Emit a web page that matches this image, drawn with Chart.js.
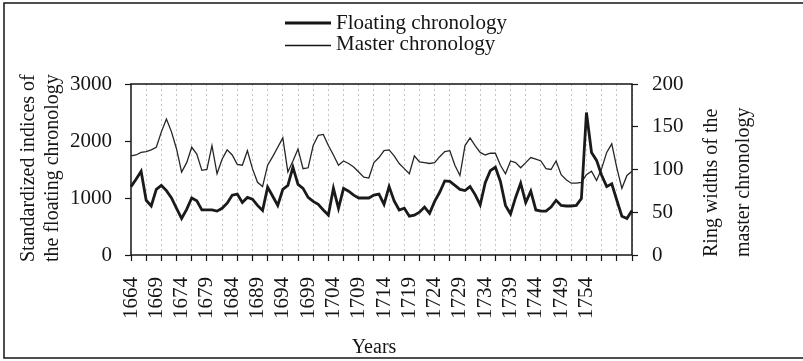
<!DOCTYPE html>
<html>
<head>
<meta charset="utf-8">
<script src="https://cdn.jsdelivr.net/npm/chart.js@4.4.1/dist/chart.umd.min.js"></script>
<style>
  html,body{margin:0;padding:0;background:#fff;}
  #wrap{position:relative;width:803px;height:361px;}
</style>
</head>
<body>
<div id="wrap"><canvas id="c" width="803" height="361"></canvas></div>
<script>
// categories: one per year
const years = Array.from({length:100}, (_, i) => 1664 + i);

// standardized indices of the floating chronology (left axis)
const floating = [
  1200,1330,1470,960,860,1150,1220,1130,1000,820,
  640,800,1000,950,790,790,790,770,820,910,
  1050,1070,920,1010,980,870,780,1190,1030,870,
  1150,1220,1540,1240,1170,1010,940,890,790,700,
  1170,820,1170,1120,1050,1000,1000,1000,1050,1070,
  890,1200,950,790,820,680,700,750,840,730,
  940,1100,1300,1290,1220,1150,1130,1200,1060,880,
  1270,1480,1540,1290,870,720,1010,1260,920,1120,
  790,770,770,840,960,870,860,860,870,990,
  2500,1800,1660,1400,1200,1250,960,680,640,780
];

// ring widths of the master chronology (right axis)
const master = [
  116,117,120,121,123,126,144,159,144,124,
  97,108,126,118,99,100,128,95,112,123,
  117,106,105,122,101,85,80,105,115,126,
  137,97,110,124,101,102,128,140,141,128,
  117,105,110,107,103,97,91,90,108,114,
  122,123,116,107,101,95,116,109,108,107,
  108,115,121,122,105,93,128,137,128,120,
  117,119,119,105,95,110,108,102,108,114,
  112,110,101,100,110,94,88,84,84,85,
  94,98,87,101,120,130,102,78,93,98
];

const leftTicks = [0, 1000, 2000, 3000];
const rightTicks = [0, 50, 100, 150, 200];
const leftTitle = ["Standardized indices of", "the floating chronology"];
const rightTitle = ["Ring widths of the", "master chronology"];
const xTitle = "Years";

const SERIF = "'Liberation Serif', 'Times New Roman', serif";
const INK = "#151515";
const tickFont = {family: SERIF, size: 21};

// box round the plot area
const frame = {
  id: "frame",
  beforeDatasetsDraw(chart){
    const {ctx, chartArea:a} = chart;
    ctx.save();
    ctx.strokeStyle = INK; ctx.lineWidth = 1.5;
    ctx.strokeRect(a.left, a.top, a.right - a.left, a.bottom - a.top);
    ctx.restore();
  }
};

// legend, axis titles and the outer border
const texts = {
  id: "texts",
  afterDraw(chart){
    const ctx = chart.ctx;
    ctx.save();
    ctx.fillStyle = INK; ctx.strokeStyle = INK;
    // outer border
    ctx.lineWidth = 1.5;
    ctx.beginPath();
    ctx.moveTo(803, 3); ctx.lineTo(4, 3); ctx.lineTo(4, 358); ctx.lineTo(803, 358);
    ctx.stroke();
    // legend, stacked
    ctx.font = "21px " + SERIF;
    ctx.textAlign = "left"; ctx.textBaseline = "alphabetic";
    const rows = [{y: 23, tx: 28.5}, {y: 45.5, tx: 50}];
    chart.data.datasets.forEach((ds, i) => {
      const r = rows[i];
      ctx.lineWidth = ds.borderWidth;
      ctx.beginPath(); ctx.moveTo(285, r.y); ctx.lineTo(331, r.y); ctx.stroke();
      ctx.fillText(ds.label, 336, r.tx);
    });
    // y titles, read bottom to top
    ctx.font = "20px " + SERIF;
    const rot = (lines, xs, y0) => lines.forEach((t, i) => {
      ctx.save(); ctx.translate(xs[i], y0); ctx.rotate(-Math.PI / 2);
      ctx.fillText(t, 0, 0); ctx.restore();
    });
    rot(leftTitle, [34, 58], 262);
    rot(rightTitle, [717, 749], 257);
    // x title
    ctx.textAlign = "center";
    ctx.fillText(xTitle, 374, 353);
    ctx.restore();
  }
};

new Chart(document.getElementById("c"), {
  type: "line",
  data: {
    labels: years,
    datasets: [
      {label: "Floating chronology", data: floating, yAxisID: "y", borderColor: "#1a1a1a",
       borderWidth: 2.8, pointRadius: 0, tension: 0},
      {label: "Master chronology", data: master, yAxisID: "y1", borderColor: "#262626",
       borderWidth: 1.3, pointRadius: 0, tension: 0}
    ]
  },
  options: {
    responsive: false, animation: false, devicePixelRatio: 1,
    layout: {padding: {top: 84, left: 0, right: 0, bottom: 0}},
    plugins: {legend: {display: false}, tooltip: {enabled: false}},
    scales: {
      x: {
        offset: false,
        grid: {
          drawOnChartArea: true, drawTicks: true, tickLength: 6, lineWidth: 1,
          color: c => (c.index % 3 === 0 && c.index > 0) ? "#c4c4c4" : "rgba(0,0,0,0)",
          tickColor: c => c.index % 3 === 0 ? INK : "rgba(0,0,0,0)",
          tickBorderDash: [], tickWidth: 1.2
        },
        border: {display: false, dash: [2, 3]},
        ticks: {
          autoSkip: false, maxRotation: 90, minRotation: 90, padding: 16,
          color: INK, font: tickFont,
          callback: (v, i) => (i % 5 === 0 && years[i] <= 1754) ? String(years[i]) : ""
        },
        afterFit: s => { s.height = 106; }
      },
      y: {
        position: "left", min: 0, max: 3000,
        afterBuildTicks: s => { s.ticks = leftTicks.map(v => ({value: v})); },
        grid: {drawOnChartArea: false, tickLength: 6, tickColor: INK, tickWidth: 1.2},
        border: {display: false},
        ticks: {color: INK, font: tickFont, padding: 13, callback: v => String(v)},
        afterFit: s => { s.width = 131; }
      },
      y1: {
        position: "right", min: 0, max: 200,
        afterBuildTicks: s => { s.ticks = rightTicks.map(v => ({value: v})); },
        grid: {drawOnChartArea: false, tickLength: 6, tickColor: INK, tickWidth: 1.2},
        border: {display: false},
        ticks: {color: INK, font: tickFont, padding: 14, callback: v => String(v)},
        afterFit: s => { s.width = 171; }
      }
    }
  },
  plugins: [frame, texts]
});
</script>
</body>
</html>
